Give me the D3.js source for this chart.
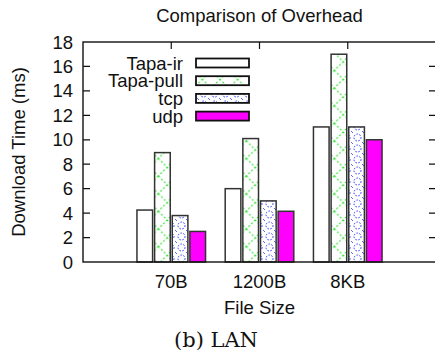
<!DOCTYPE html>
<html>
<head>
<meta charset="utf-8">
<script src="https://cdn.jsdelivr.net/npm/d3@7"></script>
<style>
  body { margin: 0; background: #fff; }
  text { font-family: "Liberation Sans", Arial, sans-serif; fill: #111; font-size: 18.5px; }
</style>
</head>
<body>
<svg id="chart" width="435" height="356"></svg>
<script>
const categories = ["70B", "1200B", "8KB"];
const seriesNames = ["Tapa-ir", "Tapa-pull", "tcp", "udp"];
const tapaIr = [4.25, 6.0, 11.05];
const tapaPull = [8.95, 10.1, 17.0];
const tcp = [3.8, 5.0, 11.05];
const udp = [2.5, 4.15, 10.0];
const yTicks = [0, 2, 4, 6, 8, 10, 12, 14, 16, 18];

const values = [tapaIr, tapaPull, tcp, udp];
const fills = ["#fff", "url(#pull)", "url(#tcp)", "#ff00ff"];

const svg = d3.select("#chart");

// patterns
const defs = svg.append("defs");
const pull = defs.append("pattern").attr("id", "pull")
  .attr("patternUnits", "userSpaceOnUse").attr("width", 17.6).attr("height", 17.6);
pull.append("rect").attr("width", 17.6).attr("height", 17.6).attr("fill", "#fff");
pull.append("path").attr("d", "M0,0L17.6,17.6M17.6,0L0,17.6")
  .attr("stroke", "#22dd22").attr("stroke-width", 1).attr("stroke-dasharray", "2,2").attr("fill", "none");
const tcpPat = defs.append("pattern").attr("id", "tcp")
  .attr("patternUnits", "userSpaceOnUse").attr("width", 11).attr("height", 11);
tcpPat.append("rect").attr("width", 11).attr("height", 11).attr("fill", "#fff");
tcpPat.append("circle").attr("cx", 5.5).attr("cy", 5.5).attr("r", 3.5)
  .attr("stroke", "#2233ff").attr("stroke-width", 1).attr("stroke-dasharray", "1.5,1.5").attr("fill", "none");
tcpPat.append("circle").attr("cx", 0).attr("cy", 0).attr("r", 1).attr("fill", "#2233ff");
tcpPat.append("circle").attr("cx", 11).attr("cy", 11).attr("r", 1).attr("fill", "#2233ff");

const x = d3.scaleLinear().domain([-1, 3]).range([83, 436]);
const y = d3.scaleLinear().domain([0, 18]).range([262, 42]);
const bw = x(0.2) - x(0);

// bars
values.forEach((vals, i) => {
  svg.append("g").selectAll("rect")
    .data(vals)
    .enter()
    .append("rect")
    .attr("x", (d, j) => x(j + (i - 2) * 0.2) + 1)
    .attr("y", d => y(d))
    .attr("width", bw - 2)
    .attr("height", d => y(0) - y(d))
    .attr("fill", fills[i])
    .attr("stroke", "#333")
    .attr("stroke-width", 1.5);
});

// frame
svg.append("rect")
  .attr("x", x(-1)).attr("y", y(18))
  .attr("width", x(3) - x(-1)).attr("height", y(0) - y(18))
  .attr("fill", "none").attr("stroke", "#111").attr("stroke-width", 1.4);

// y ticks, left and mirrored right
svg.append("g").selectAll("path")
  .data(yTicks.slice(1, -1))
  .enter()
  .append("path")
  .attr("d", d => `M${x(-1)},${y(d)}h7M${x(3)},${y(d)}h-7`)
  .attr("stroke", "#111").attr("stroke-width", 1.2);

svg.append("g").selectAll("text")
  .data(yTicks)
  .enter()
  .append("text")
  .attr("x", x(-1) - 10)
  .attr("y", d => y(d) + 6.5)
  .attr("text-anchor", "end")
  .text(d => d);

// x ticks (top mirror) and labels
svg.append("g").selectAll("path")
  .data(categories)
  .enter()
  .append("path")
  .attr("d", (d, j) => `M${x(j)},${y(18)}v7`)
  .attr("stroke", "#111").attr("stroke-width", 1.2);

svg.append("g").selectAll("text")
  .data(categories)
  .enter()
  .append("text")
  .attr("x", (d, j) => x(j))
  .attr("y", 288)
  .attr("text-anchor", "middle")
  .text(d => d);

// titles
svg.append("text").attr("x", (x(-1) + x(3)) / 2).attr("y", 22)
  .attr("text-anchor", "middle").text("Comparison of Overhead");
svg.append("text").attr("x", (x(-1) + x(3)) / 2).attr("y", 314)
  .attr("text-anchor", "middle").text("File Size");
svg.append("text").attr("transform", `translate(25,${(y(0) + y(18)) / 2}) rotate(-90)`)
  .attr("text-anchor", "middle").text("Download Time (ms)");
svg.append("text").attr("x", 216).attr("y", 347)
  .attr("text-anchor", "middle")
  .style("font-family", "'DejaVu Serif', serif").style("font-size", "21px")
  .text("(b) LAN");

// legend
const legend = svg.append("g");
seriesNames.forEach((name, i) => {
  const cy = 63 + i * 17.7;
  legend.append("text").attr("x", 183).attr("y", cy + 6.5)
    .attr("text-anchor", "end").text(name);
  legend.append("rect").attr("x", 196).attr("y", cy - 4.5)
    .attr("width", 53).attr("height", 9)
    .attr("fill", fills[i]).attr("stroke", "#111").attr("stroke-width", 1.8);
});
</script>
</body>
</html>
